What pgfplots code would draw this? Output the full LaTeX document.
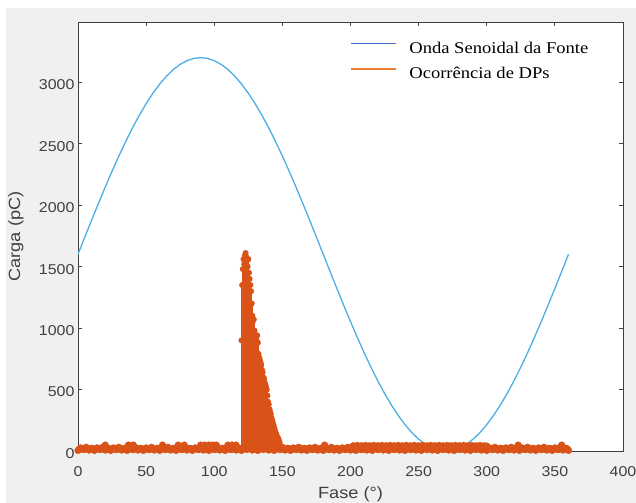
\documentclass[border=0pt]{standalone}
\usepackage{fontspec}
\usepackage{pgfplots}
\pgfplotsset{compat=1.18}
\setmainfont{Liberation Sans}
\newfontfamily\tickfont{Liberation Sans}[FakeStretch=1.12]
\newfontfamily\legfont{Liberation Serif}[FakeStretch=1.13]
\definecolor{figbg}{RGB}{240,240,240}
\definecolor{axcol}{RGB}{64,64,64}
\definecolor{sinecol}{RGB}{77,175,230}
\definecolor{dpcol}{RGB}{217,83,25}
\definecolor{legblue}{RGB}{68,114,196}
\definecolor{legorange}{RGB}{237,125,49}
\begin{document}
\begin{tikzpicture}
\path[use as bounding box, fill=white] (0,0) rectangle (636bp,503bp);
\fill[figbg] (6bp,0) rectangle (636bp,495bp);
\begin{axis}[
  at={(78bp,52bp)}, anchor=south west,
  scale only axis, width=545bp, height=429bp,
  xmin=0, xmax=400, ymin=0, ymax=3490,
  xtick={0,50,...,400}, ytick={0,500,...,3000},
  scaled ticks=false,
  tick align=inside, major tick length=4bp,
  axis background/.style={fill=white},
  axis line style={axcol, line width=0.8bp},
  every tick/.style={axcol, line width=0.8bp},
  /pgf/number format/assume math mode=true,
  /pgf/number format/1000 sep={},
  ticklabel style={font=\tickfont\fontsize{14.3}{16}\selectfont, text=axcol},
  xticklabel style={yshift=-12.5bp},
  yticklabel style={yshift=-2.5bp},
  xlabel={Fase (°)}, ylabel={Carga (pC)},
  xlabel style={font=\tickfont\fontsize{16.3}{18}\selectfont, text=axcol, at={(axis description cs:0.5,-0.1003)}, anchor=center},
  ylabel style={font=\tickfont\fontsize{16.3}{18}\selectfont, text=axcol, at={(axis description cs:-0.114,0.5)}, anchor=center},
  legend cell align=left,
  legend style={at={(axis description cs:0.499,0.9545)}, anchor=north west, draw=none, fill=none, inner sep=0pt,
    font=\legfont\fontsize{16.5}{19}\selectfont, row sep=12.5bp, text=black,
    /tikz/every odd column/.append style={column sep=13bp},
    nodes={inner sep=0pt}},
]
% source sine wave
\addplot[sinecol, line width=1.3bp, forget plot] coordinates {
(0,1600)(5,1739.5)(10,1877.8)(15,2014.1)(20,2147.2)(25,2276.2)(30,2400)(35,2517.7)(40,2628.5)(45,2731.4)
(50,2825.7)(55,2910.6)(60,2985.6)(65,3050.1)(70,3103.5)(75,3145.5)(80,3175.7)(85,3193.9)(90,3200)
(95,3193.9)(100,3175.7)(105,3145.5)(110,3103.5)(115,3050.1)(120,2985.6)(125,2910.6)(130,2825.7)(135,2731.4)
(140,2628.5)(145,2517.7)(150,2400)(155,2276.2)(160,2147.2)(165,2014.1)(170,1877.8)(175,1739.5)(180,1600)
(185,1460.5)(190,1322.2)(195,1185.9)(200,1052.8)(205,923.8)(210,800)(215,682.3)(220,571.5)(225,468.6)
(230,374.3)(235,289.4)(240,214.4)(245,149.9)(250,96.5)(255,54.5)(260,24.3)(265,6.1)(270,0)
(275,6.1)(280,24.3)(285,54.5)(290,96.5)(295,149.9)(300,214.4)(305,289.4)(310,374.3)(315,468.6)
(320,571.5)(325,682.3)(330,800)(335,923.8)(340,1052.8)(345,1185.9)(350,1322.2)(355,1460.5)(360,1600)
};
% PD occurrences: low-level band
\addplot[dpcol, only marks, mark=*, mark size=3.4bp, mark options={draw=dpcol, fill=dpcol}, forget plot] coordinates {
(0,5)(2,25)(4,12)(6,30)(8,8)(10,22)(12,5)(14,25)(16,12)(18,30)(20,8)(22,22)
(24,5)(26,25)(28,12)(30,30)(32,8)(34,22)(36,5)(38,25)(40,12)(42,30)(44,8)(46,22)
(48,5)(50,25)(52,12)(54,30)(56,8)(58,22)(60,5)(62,25)(64,12)(66,30)(68,8)(70,22)
(72,5)(74,25)(76,12)(78,30)(80,8)(82,22)(84,5)(86,25)(88,12)(90,30)(92,8)(94,22)
(96,5)(98,25)(100,12)(102,30)(104,8)(106,22)(108,5)(110,25)(112,12)(114,30)(116,8)(118,22)
(120,5)(122,25)(124,12)(126,30)(128,8)(130,22)(132,5)(134,25)(136,12)(138,30)(140,8)(142,22)
(144,5)(146,25)(148,12)(150,30)(152,8)(154,22)(156,5)(158,25)(160,12)(162,30)(164,8)(166,22)
(168,5)(170,25)(172,12)(174,30)(176,8)(178,22)(180,5)(182,25)(184,12)(186,30)(188,8)(190,22)
(192,5)(194,25)(196,12)(198,30)(200,8)(202,22)(204,5)(206,25)(208,12)(210,30)(212,8)(214,22)
(216,5)(218,25)(220,12)(222,30)(224,8)(226,22)(228,5)(230,25)(232,12)(234,30)(236,8)(238,22)
(240,5)(242,25)(244,12)(246,30)(248,8)(250,22)(252,5)(254,25)(256,12)(258,30)(260,8)(262,22)
(264,5)(266,25)(268,12)(270,30)(272,8)(274,22)(276,5)(278,25)(280,12)(282,30)(284,8)(286,22)
(288,5)(290,25)(292,12)(294,30)(296,8)(298,22)(300,5)(302,25)(304,12)(306,30)(308,8)(310,22)
(312,5)(314,25)(316,12)(318,30)(320,8)(322,22)(324,5)(326,25)(328,12)(330,30)(332,8)(334,22)
(336,5)(338,25)(340,12)(342,30)(344,8)(346,22)(348,5)(350,25)(352,12)(354,30)(356,8)(358,22)(360,5)
(1,15)(3,18)(5,15)(7,18)(9,15)(11,18)(13,15)(15,18)(17,15)(19,18)(21,15)(23,18)(25,15)(27,18)(29,15)
(31,18)(33,15)(35,18)(37,15)(39,18)(41,15)(43,18)(45,15)(47,18)(49,15)(51,18)(53,15)(55,18)(57,15)
(59,18)(61,15)(63,18)(65,15)(67,18)(69,15)(71,18)(73,15)(75,18)(77,15)(79,18)(81,15)(83,18)(85,15)
(87,18)(89,15)(91,18)(93,15)(95,18)(97,15)(99,18)(101,15)(103,18)(105,15)(107,18)(109,15)(111,18)
(113,15)(115,18)(117,15)(119,18)(149,15)(151,18)(153,15)(155,18)(157,15)(159,18)(161,15)(163,18)
(165,15)(167,18)(169,15)(171,18)(173,15)(175,18)(177,15)(179,18)(181,15)(183,18)(185,15)(187,18)
(189,15)(191,18)(193,15)(195,18)(197,15)(199,18)(201,15)(203,18)(205,15)(207,18)(209,15)(211,18)
(213,15)(215,18)(217,15)(219,18)(221,15)(223,18)(225,15)(227,18)(229,15)(231,18)(233,15)(235,18)
(237,15)(239,18)(241,15)(243,18)(245,15)(247,18)(249,15)(251,18)(253,15)(255,18)(257,15)(259,18)
(261,15)(263,18)(265,15)(267,18)(269,15)(271,18)(273,15)(275,18)(277,15)(279,18)(281,15)(283,18)
(285,15)(287,18)(289,15)(291,18)(293,15)(295,18)(297,15)(299,18)(301,15)(303,18)(305,15)(307,18)
(309,15)(311,18)(313,15)(315,18)(317,15)(319,18)(321,15)(323,18)(325,15)(327,18)(329,15)(331,18)
(333,15)(335,18)(337,15)(339,18)(341,15)(343,18)(345,15)(347,18)(349,15)(351,18)(353,15)(355,18)
(357,15)(359,18)
(20,48)(37,48)(40.5,48)(62,48)(73.5,48)(78,48)(90,48)(93,48)(96,48)(99,48)(101.5,48)(110,48)(113,48)(116,48)
(181,48)(323,48)(355,48)
(202,42)(205,45)(208,42)(211,45)(214,42)(217,45)(220,42)(223,45)(226,42)(229,45)(232,42)(235,45)
(238,42)(241,45)(244,42)(247,45)(250,42)(253,45)(256,42)(259,45)(262,42)(265,45)(268,42)(271,45)
(274,42)(277,45)(280,42)(283,45)(286,42)(289,45)(292,42)(295,45)(298,42)(300,40)
};
% PD occurrences: main cluster
\addplot[dpcol, ycomb, line width=1.6bp, mark=*, mark size=2.2bp, mark options={draw=dpcol, fill=dpcol}, forget plot] coordinates {
(120.0,900)(120.5,1350)(121.0,1480)(121.5,1560)(122.0,1520)(122.5,1590)(123.0,1610)(123.5,1580)
(124.0,1550)(124.5,1500)(125.0,1560)(125.5,1450)(126.0,1400)(126.5,1350)(127.0,1300)(127.5,1200)
(128.0,1100)(128.5,1060)(129.0,1070)(129.5,980)(130.0,950)(130.5,930)(131.0,900)(131.5,940)
(132.0,880)(132.5,790)(133.0,760)(133.5,740)(134.0,720)(134.5,700)(135.0,660)(135.5,640)
(136.0,600)(136.5,590)(137.0,560)(137.5,540)(138.0,520)(138.5,500)(139.0,450)(139.5,400)
(140.0,380)(140.5,340)(141.0,320)(141.5,300)(142.0,270)(142.5,250)(143.0,230)(143.5,210)
(144.0,190)(144.5,170)(145.0,150)(145.5,140)(146.0,120)(146.5,110)(147.0,100)(147.5,85)(148.0,70)
};
\addlegendimage{legend image code/.code={\draw[draw=legblue, line width=1.2bp] (0bp,4.5bp) -- (45bp,4.5bp);}}
\addlegendentry{Onda Senoidal da Fonte}
\addlegendimage{legend image code/.code={\draw[draw=legorange, line width=1.2bp] (0bp,4.5bp) -- (45bp,4.5bp);}}
\addlegendentry{Ocorrência de DPs}
\end{axis}
\end{tikzpicture}
\end{document}
